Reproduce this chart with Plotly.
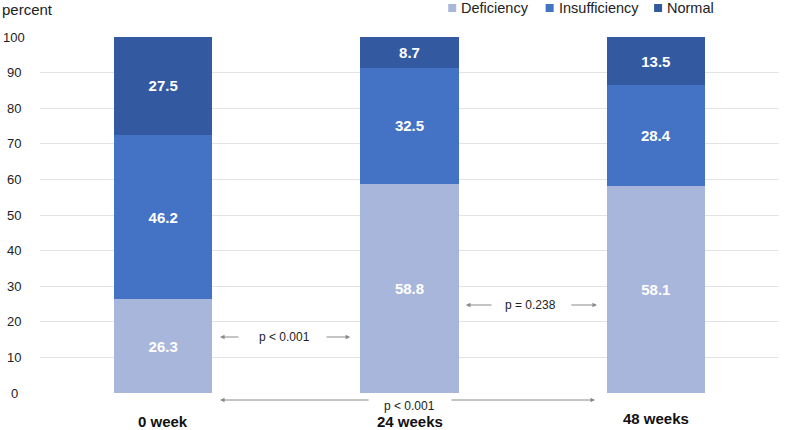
import plotly.graph_objects as go

categories = ["0 week", "24 weeks", "48 weeks"]
deficiency = [26.3, 58.8, 58.1]
insufficiency = [46.2, 32.5, 28.4]
normal = [27.5, 8.7, 13.5]
y_ticks = [0, 10, 20, 30, 40, 50, 60, 70, 80, 90, 100]

x_pos = list(range(len(categories)))
FONT = "Liberation Sans, Arial, sans-serif"
PLOT_L, PLOT_W, PLOT_H = 40.0, 739.5, 356.0

def py(px):
    """pixel row -> paper y"""
    return (393 - px) / PLOT_H

def pxx(px):
    """pixel column -> paper x"""
    return (px - PLOT_L) / PLOT_W

fig = go.Figure()
series = [
    ("Deficiency", deficiency, "#A8B6DB"),
    ("Insufficiency", insufficiency, "#4472C4"),
    ("Normal", normal, "#335AA1"),
]
for name, vals, col in series:
    fig.add_trace(go.Bar(
        x=x_pos, y=vals, name=name, marker_color=col, marker_line_width=0,
        width=0.40, text=[f"{v:.1f}" for v in vals], textposition="inside",
        insidetextanchor="middle",
        textfont=dict(color="white", size=15, family=FONT, weight="bold"),
        hoverinfo="skip", showlegend=False,
    ))

annotations = []
shapes = []

# y tick labels (centred, as in the reference)
for t in y_ticks:
    annotations.append(dict(x=pxx(14), y=t, xref="paper", yref="y", text=str(t),
                            showarrow=False, xanchor="center", yanchor="middle",
                            font=dict(size=13, color="#222", family=FONT)))

# category labels
label_px = [421.5, 421.5, 418.5]
for i, c in enumerate(categories):
    annotations.append(dict(x=i, y=py(label_px[i]), xref="x", yref="paper",
                            xanchor="center", yanchor="middle",
                            text=f"<b>{c}</b>", showarrow=False,
                            font=dict(size=15, color="#111", family=FONT)))

# y axis title
annotations.append(dict(x=pxx(0), y=py(9), xref="paper", yref="paper",
                        xanchor="left", yanchor="middle", text="percent",
                        showarrow=False, font=dict(size=15, color="#222", family=FONT)))

# legend (manual, to match the compact reference layout)
legend_sq_px = [452.5, 550, 658.5]
for (name, _, col), cx in zip(series, legend_sq_px):
    shapes.append(dict(type="rect", xref="paper", yref="paper",
                       x0=pxx(cx - 4), x1=pxx(cx + 4), y0=py(12), y1=py(4),
                       fillcolor=col, line_width=0))
    annotations.append(dict(x=pxx(cx + 7), y=py(8), xref="paper", yref="paper",
                            xanchor="left", yanchor="middle", text=name, showarrow=False,
                            font=dict(size=14.5, color="#222", family=FONT)))

arrow_col = "#8a8a8a"
def arrow(x_head, x_tail, ypx):
    annotations.append(dict(x=x_head, y=py(ypx), ax=x_tail, ay=0, xref="x", yref="paper",
                            axref="x", ayref="pixel", showarrow=True, arrowhead=2,
                            arrowsize=0.9, arrowwidth=1, arrowcolor=arrow_col, text=""))

def ptext(x, ypx, t):
    annotations.append(dict(x=x, y=py(ypx), xref="x", yref="paper", text=t, showarrow=False,
                            xanchor="center", yanchor="middle",
                            font=dict(size=12, color="#222", family=FONT)))

# 0 vs 24
arrow(0.231, 0.312, 337)
arrow(0.759, 0.657, 337)
ptext(0.491, 337, "p < 0.001")
# 24 vs 48
arrow(1.229, 1.339, 305)
arrow(1.761, 1.651, 305)
ptext(1.493, 305, "p = 0.238")
# 0 vs 48
arrow(0.231, 0.84, 400)
arrow(1.753, 1.164, 400)
ptext(1.002, 405.5, "p < 0.001")

fig.update_layout(
    width=797, height=430,
    margin=dict(l=40, r=17.5, t=37, b=37, autoexpand=False),
    barmode="stack",
    plot_bgcolor="white", paper_bgcolor="white",
    font=dict(family=FONT, size=12, color="#222"),
    xaxis=dict(range=[-0.5, 2.5], showticklabels=False, showgrid=False,
               zeroline=False, fixedrange=True, automargin=False),
    yaxis=dict(range=[0, 100], tickvals=y_ticks, showgrid=True, gridcolor="#e3e3e3",
               gridwidth=1, zeroline=False, ticks="", showticklabels=False,
               automargin=False),
    showlegend=False,
    annotations=annotations,
    shapes=shapes,
    bargap=0.6,
)

fig.write_html("out.html", config={"displayModeBar": False},
               post_script="document.body.style.margin='0';")
